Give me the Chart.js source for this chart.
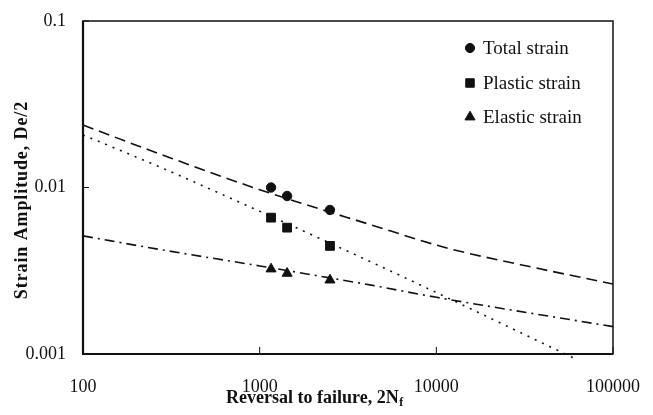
<!DOCTYPE html>
<html>
<head>
<meta charset="utf-8">
<script src="https://cdn.jsdelivr.net/npm/chart.js@4.4.1/dist/chart.umd.min.js"></script>
<style>
  html, body { margin: 0; padding: 0; background: #fff; }
  #wrap { width: 653px; height: 415px; position: relative; }
</style>
</head>
<body>
<div id="wrap"><canvas id="strainChart"></canvas></div>
<script>
// decade ticks
const xTicks = [100, 1000, 10000, 100000];
const yTicks = [0.001, 0.01, 0.1];

// test results (reversals to failure)
const testReversals = [1160, 1430, 2500];
const totalStrain = [0.0100, 0.00889, 0.00733];
const plasticStrain = [0.00659, 0.00574, 0.00446];
const elasticStrain = [0.00324, 0.00305, 0.00278];

// fitted curves
const totalFitX = [100, 300, 1000, 4200, 11600, 30000, 100000];
const totalFitY = [0.0237, 0.0153, 0.0097, 0.0060, 0.00432, 0.00344, 0.00263];
const plasticFitX = [100, 300, 1000, 4200, 10000, 62000];
const plasticFitY = [0.0207, 0.0127, 0.0072, 0.0036, 0.00234, 0.00093];
const elasticFitX = [100, 300, 1000, 4200, 10000, 100000];
const elasticFitY = [0.00512, 0.00417, 0.00338, 0.0026, 0.00219, 0.00146];

const FONT = "'Liberation Serif', 'Times New Roman', serif";
const INK = '#111';

const pairs = (xs, ys) => xs.map((x, i) => ({ x: x, y: ys[i] }));

const markerSet = (label, ys, style, radius) => ({
    label: label,
    data: pairs(testReversals, ys),
    showLine: false,
    pointStyle: style,
    pointRadius: radius,
    backgroundColor: INK,
    borderColor: INK,
    borderWidth: 1,
    legendMarker: true
});

const fitSet = (xs, ys, dash) => ({
    label: '',
    data: pairs(xs, ys),
    showLine: true,
    pointRadius: 0,
    borderColor: INK,
    borderWidth: 1.6,
    borderDash: dash,
    cubicInterpolationMode: 'monotone',
    fill: false,
    clip: 6
});

// keep the plot box where the layout padding puts it
const noLabelPadding = s => {
    s.paddingLeft = 0;
    s.paddingRight = 0;
    s.paddingTop = 0;
    s.paddingBottom = 0;
};

// frame, inward ticks, axis titles and legend
const decorPlugin = {
    id: 'decor',
    afterDraw(chart) {
        const ctx = chart.ctx;
        const a = chart.chartArea;
        const xs = chart.scales.x;
        const ys = chart.scales.y;
        ctx.save();
        ctx.strokeStyle = INK;

        ctx.lineWidth = 1.5;
        ctx.strokeRect(a.left, a.top, a.right - a.left, a.bottom - a.top);
        ctx.lineWidth = 2.2;
        ctx.beginPath();
        ctx.moveTo(a.left, a.top);
        ctx.lineTo(a.left, a.bottom);
        ctx.lineTo(a.right, a.bottom);
        ctx.stroke();

        ctx.lineWidth = 1;
        ctx.beginPath();
        xTicks.forEach(v => {
            const px = xs.getPixelForValue(v);
            ctx.moveTo(px, a.bottom);
            ctx.lineTo(px, a.bottom - 7);
        });
        yTicks.forEach(v => {
            const py = ys.getPixelForValue(v);
            ctx.moveTo(a.left, py);
            ctx.lineTo(a.left + 6, py);
        });
        ctx.stroke();

        // x title with subscript f
        ctx.fillStyle = INK;
        ctx.textBaseline = 'alphabetic';
        ctx.textAlign = 'left';
        ctx.font = 'bold 18px ' + FONT;
        const main = 'Reversal to failure, 2N';
        ctx.fillText(main, 226, 403);
        const w = ctx.measureText(main).width;
        ctx.font = 'bold 12px ' + FONT;
        ctx.fillText('f', 226 + w + 0.5, 406);

        // y title
        ctx.save();
        ctx.translate(22, 200);
        ctx.rotate(-Math.PI / 2);
        ctx.textAlign = 'center';
        ctx.textBaseline = 'middle';
        ctx.font = 'bold 18px ' + FONT;
        ctx.letterSpacing = '0.9px';
        ctx.fillText('Strain Amplitude, De/2', 0, 0);
        ctx.restore();

        // legend
        const rows = [48, 83, 117];
        const legendRadius = { circle: 4.6, rect: 6.0, triangle: 5.8 };
        let row = 0;
        chart.data.datasets.forEach(ds => {
            if (!ds.legendMarker) return;
            const y = rows[row++];
            ctx.fillStyle = INK;
            ctx.strokeStyle = INK;
            Chart.helpers.drawPoint(ctx, {
                pointStyle: ds.pointStyle,
                radius: legendRadius[ds.pointStyle],
                rotation: 0,
                borderWidth: 1
            }, 470, y);
            ctx.font = '19px ' + FONT;
            ctx.textAlign = 'left';
            ctx.textBaseline = 'middle';
            ctx.fillText(ds.label, 483, y + 1);
        });
        ctx.restore();
    }
};

new Chart(document.getElementById('strainChart'), {
    type: 'scatter',
    data: {
        datasets: [
            markerSet('Total strain', totalStrain, 'circle', 4.7),
            markerSet('Plastic strain', plasticStrain, 'rect', 6.2),
            markerSet('Elastic strain', elasticStrain, 'triangle', 5.8),
            fitSet(totalFitX, totalFitY, [11, 6]),
            fitSet(plasticFitX, plasticFitY, [2, 6]),
            fitSet(elasticFitX, elasticFitY, [10, 5, 2, 5])
        ]
    },
    options: {
        responsive: true,
        maintainAspectRatio: false,
        animation: false,
        layout: { padding: { left: 0, top: 21, right: 40, bottom: 0 } },
        plugins: {
            legend: { display: false },
            tooltip: { enabled: false }
        },
        scales: {
            x: {
                type: 'logarithmic',
                min: 100,
                max: 100000,
                afterBuildTicks: s => { s.ticks = xTicks.map(v => ({ value: v })); },
                afterFit: s => { s.height = 61; noLabelPadding(s); },
                grid: { display: false, drawTicks: false },
                border: { display: false },
                ticks: {
                    padding: 22,
                    color: INK,
                    font: { family: FONT, size: 18 },
                    maxRotation: 0,
                    callback: v => String(v)
                }
            },
            y: {
                type: 'logarithmic',
                min: 0.001,
                max: 0.1,
                afterBuildTicks: s => { s.ticks = yTicks.map(v => ({ value: v })); },
                afterFit: s => { s.width = 83; noLabelPadding(s); },
                grid: { display: false, drawTicks: false },
                border: { display: false },
                ticks: {
                    padding: 17,
                    color: INK,
                    font: { family: FONT, size: 18 },
                    callback: v => String(v)
                }
            }
        }
    },
    plugins: [decorPlugin]
});
</script>
</body>
</html>
